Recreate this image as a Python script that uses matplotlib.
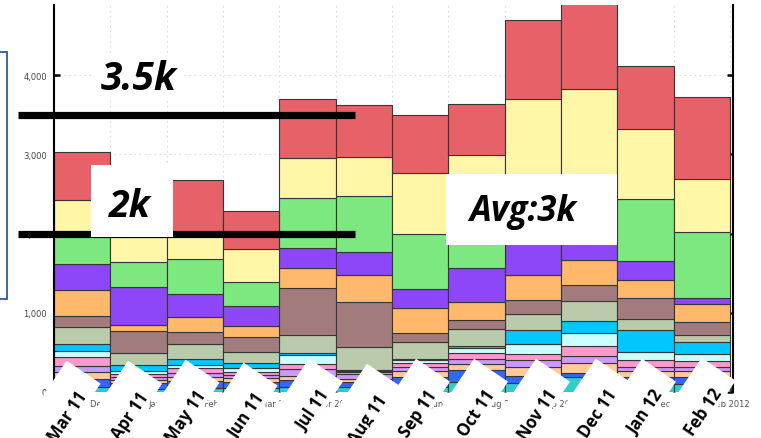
import matplotlib
matplotlib.use("Agg")
import matplotlib.pyplot as plt
import matplotlib.transforms as mtransforms
from matplotlib.patches import Rectangle, Polygon
import numpy as np

# month labels drawn on the white tags, and the axis' own date labels underneath
months = ["Mar 11", "Apr 11", "May 11", "Jun 11", "Jul 11", "Aug 11",
          "Sep 11", "Oct 11", "Nov 11", "Dec 11", "Jan 12", "Feb 12"]
axis_dates = ["Dec 2010", "Jan 2011", "Feb 2011", "Mar 2011", "Apr 2011", "May 2011",
              "Jun 2011", "Aug 2011", "Sep 2011", "Oct 2011", "Dec 2011", "Feb 2012"]

# stacked layers, bottom -> top
teal = [63, 38, 51, 51, 63, 63, 63, 126, 114, 189, 101, 101]
blue = [101, 76, 88, 75, 89, 63, 126, 152, 88, 51, 88, 88]
light_orange = [89, 38, 50, 51, 50, 38, 76, 76, 114, 126, 76, 76]
lilac = [75, 37, 51, 38, 88, 63, 51, 63, 88, 89, 51, 51]
pink = [114, 38, 63, 38, 64, 26, 50, 75, 76, 126, 88, 75]
light_cyan = [76, 38, 38, 50, 113, 12, 38, 64, 126, 164, 101, 89]
cyan = [88, 76, 76, 63, 25, 13, 13, 25, 177, 151, 278, 151]
sage = [215, 151, 189, 139, 228, 290, 214, 214, 202, 253, 139, 89]
mauve = [139, 278, 152, 189, 593, 568, 114, 114, 177, 202, 265, 164]
orange = [328, 76, 189, 139, 253, 341, 316, 227, 315, 316, 227, 227]
purple = [328, 480, 290, 253, 252, 291, 240, 430, 518, 265, 240, 76]
green = [379, 315, 442, 303, 631, 707, 694, 681, 505, 568, 783, 833]
yellow = [429, 518, 303, 417, 506, 492, 770, 745, 1199, 1326, 884, 669]
red = [606, 530, 695, 479, 744, 657, 732, 644, 998, 1174, 795, 1036]

# reference levels
level_high = 3500
level_low = 2000

layers = [teal, blue, light_orange, lilac, pink, light_cyan, cyan, sage,
          mauve, orange, purple, green, yellow, red]
colors = ["#33cccc", "#3366ff", "#ffcc99", "#cc99ff", "#ff99cc", "#ccffff",
          "#00c8ff", "#b9cbab", "#a27c7c", "#ffb86c", "#8d47f8", "#7de87f",
          "#fff6a8", "#e66268"]

W, H = 761, 439
fig = plt.figure(figsize=(W / 100, H / 100), dpi=100)
ax = fig.add_axes([54 / W, (H - 393) / H, (733 - 54) / W, (393 - 6) / H])

# pixel coordinates measured from the top-left corner of the figure
px = mtransforms.Affine2D().scale(1 / W, -1 / H).translate(0, 1) + fig.transFigure

x = np.arange(len(months))
bottom = np.zeros(len(months))
for vals, c in zip(layers, colors):
    ax.bar(x, vals, bottom=bottom, width=1.0, color=c, edgecolor="#363636",
           linewidth=0.8, zorder=2)
    bottom += np.array(vals)

ax.set_xlim(-0.5, 11.55)
ax.set_ylim(0, 4886)

ax.set_yticks([0, 1000, 2000, 3000, 4000])
ax.set_yticklabels(["0", "1,000", "2,000", "3,000", "4,000"])
ax.set_xticks(x + 0.5)
ax.set_xticklabels(axis_dates)
ax.tick_params(axis="y", direction="in", length=4, width=1.8, colors="black",
               labelcolor="#444444", labelsize=6, pad=5, right=True)
ax.tick_params(axis="x", direction="in", length=4, width=1.8, colors="black",
               labelcolor="#555555", labelsize=6, pad=5)
ax.grid(True, color="#dddddd", linestyle=(0, (1.5, 3)), linewidth=0.8, zorder=0)
ax.set_axisbelow(True)
for side in ["top", "bottom"]:
    ax.spines[side].set_visible(False)
for side in ["left", "right"]:
    ax.spines[side].set_linewidth(1.5)

# box hanging off the left edge
fig.add_artist(Rectangle((-10, 53), 17, 247, transform=px, facecolor="white",
                         edgecolor="#2e5c9a", linewidth=1.3))

# thick reference lines, from outside the axes into the first bars
ybl = mtransforms.blended_transform_factory(px, ax.transData)
for lvl in [level_high, level_low]:
    ax.plot([18, 355], [lvl, lvl], transform=ybl, color="black", lw=5.2,
            solid_capstyle="butt", clip_on=False, zorder=5)

big = dict(family=["Open Sans", "DejaVu Sans"], weight="bold", style="italic",
           color="black")
fig.add_artist(Rectangle((92, 56), 90, 42, transform=px, facecolor="white",
                         edgecolor="none", zorder=4))
fig.text(139, 90, "3.5k", transform=px, ha="center", va="baseline",
         fontsize=28, zorder=7, **big)

fig.add_artist(Rectangle((91, 166), 82, 72, transform=px, facecolor="white",
                         edgecolor="none", zorder=6))
fig.text(130, 217, "2k", transform=px, ha="center", va="baseline",
         fontsize=27, zorder=7, **big)

fig.add_artist(Rectangle((446, 175), 171, 71, transform=px, facecolor="white",
                         edgecolor="none", zorder=6))
fig.text(523, 221, "Avg:3k", transform=px, ha="center", va="baseline",
         fontsize=25, zorder=7, **big)

# rotated white month tags over the bottom of the bars;
# each tag is anchored at the baseline end of its text
label_dx = [0.10, 0.19, 0.21, 0.24, 0.40, 0.43, 0.30, 0.33, 0.43, 0.49, 0.31, 0.37]
label_y = [396.5, 396.5, 395.5, 398.5, 394.5, 399.5, 394.5, 394.5, 394.5, 394.5, 394.5, 393.5]
rot = 56
a = np.deg2rad(rot)
u = np.array([np.cos(a), -np.sin(a)])   # along the text, in top-left pixel space
n = np.array([np.sin(a), np.cos(a)])    # across the text, towards the baseline side
for i, m in enumerate(months):
    xs = ax.transData.transform((i + label_dx[i], 0))[0]
    p = np.array([xs, label_y[i]])
    corners = [p + s * u + t * n for s, t in [(17, -37), (17, 4), (-120, 4), (-120, -37)]]
    fig.add_artist(Polygon(corners, closed=True, transform=px, facecolor="white",
                           edgecolor="none", zorder=9 + 2 * i))
    fig.text(p[0], p[1], m, transform=px, rotation=rot, rotation_mode="anchor",
             ha="right", va="baseline", fontsize=12,
             family=["Open Sans", "DejaVu Sans"], weight="bold", color="black",
             zorder=10 + 2 * i)

fig.savefig("out.png", dpi=100)
